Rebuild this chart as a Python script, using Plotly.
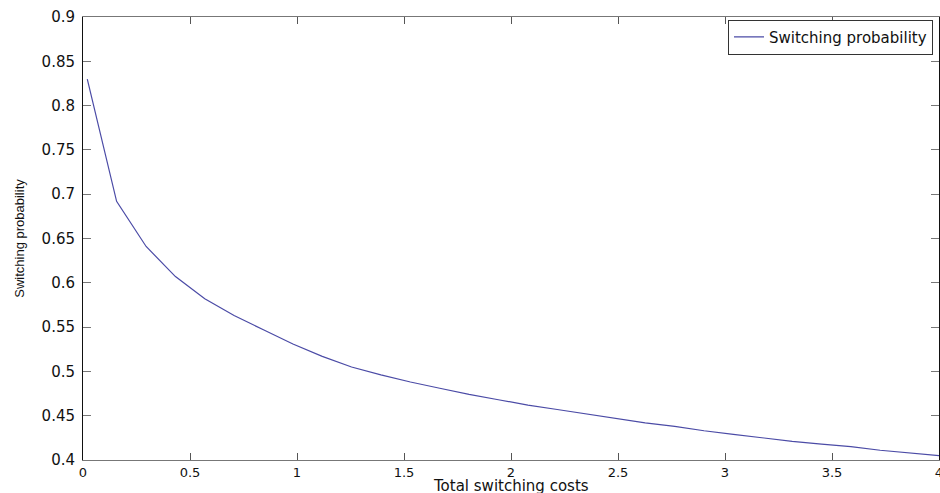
import plotly.graph_objects as go

costs = [0.020, 0.157, 0.295, 0.432, 0.569, 0.706, 0.843, 0.981, 1.118, 1.255,
         1.392, 1.530, 1.667, 1.804, 1.941, 2.079, 2.216, 2.353, 2.490, 2.627,
         2.765, 2.902, 3.039, 3.176, 3.314, 3.451, 3.588, 3.725, 3.863, 4.000]
switch_prob = [0.830, 0.692, 0.641, 0.607, 0.582, 0.563, 0.547, 0.531, 0.517, 0.505,
               0.496, 0.488, 0.481, 0.474, 0.468, 0.462, 0.457, 0.452, 0.447, 0.442,
               0.438, 0.433, 0.429, 0.425, 0.421, 0.418, 0.415, 0.411, 0.408, 0.405]

x_ticks = [0, 0.5, 1, 1.5, 2, 2.5, 3, 3.5, 4]
x_ticktext = ["0", "0.5", "1", "1.5", "2", "2.5", "3", "3.5", "4"]
y_ticks = [0.4, 0.45, 0.5, 0.55, 0.6, 0.65, 0.7, 0.75, 0.8, 0.85, 0.9]
y_ticktext = ["0.4", "0.45", "0.5", "0.55", "0.6", "0.65", "0.7", "0.75", "0.8", "0.85", "0.9"]
x_title = "Total switching costs"
y_title = "Switching probability"

fig = go.Figure()
fig.add_trace(go.Scatter(
    x=costs, y=switch_prob, mode="lines", name="Switching probability",
    line=dict(color="#4b4ba6", width=1.2),
))

fig.update_layout(
    width=940, height=493,
    margin=dict(l=83, r=1, t=17, b=33),
    paper_bgcolor="white", plot_bgcolor="white",
    showlegend=True,
    legend=dict(
        x=0.993, y=0.994, xanchor="right", yanchor="top",
        bgcolor="white", bordercolor="#333", borderwidth=1,
        font=dict(family="DejaVu Sans", size=15, color="#111"),
        tracegroupgap=0, itemwidth=30,
    ),
    xaxis=dict(
        range=[0, 4], tickvals=x_ticks, ticktext=x_ticktext,
        showgrid=False, zeroline=False, automargin=False,
        showline=True, linecolor="#777", linewidth=1, mirror="ticks",
        ticks="inside", ticklen=7, tickcolor="#555",
        tickfont=dict(family="DejaVu Sans", size=13, color="#111"),
        ticklabelstandoff=0, ticklabeloverflow="allow",
    ),
    yaxis=dict(
        range=[0.4, 0.9], tickvals=y_ticks, ticktext=y_ticktext,
        showgrid=False, zeroline=False, automargin=False,
        showline=True, linecolor="#111", linewidth=1, mirror="ticks",
        ticks="inside", ticklen=8, tickcolor="#777",
        tickfont=dict(family="DejaVu Sans", size=15, color="#111"),
        ticklabelstandoff=4,
        title=dict(text=y_title,
                   font=dict(family="Liberation Sans", size=13, color="#111"),
                   standoff=14),
    ),
    annotations=[dict(
        text=x_title, xref="paper", yref="paper", x=0.5, y=-0.037,
        xanchor="center", yanchor="top", showarrow=False,
        font=dict(family="DejaVu Sans", size=15, color="#111"),
        borderpad=0,
    )],
)

fig.write_html("out.html")
